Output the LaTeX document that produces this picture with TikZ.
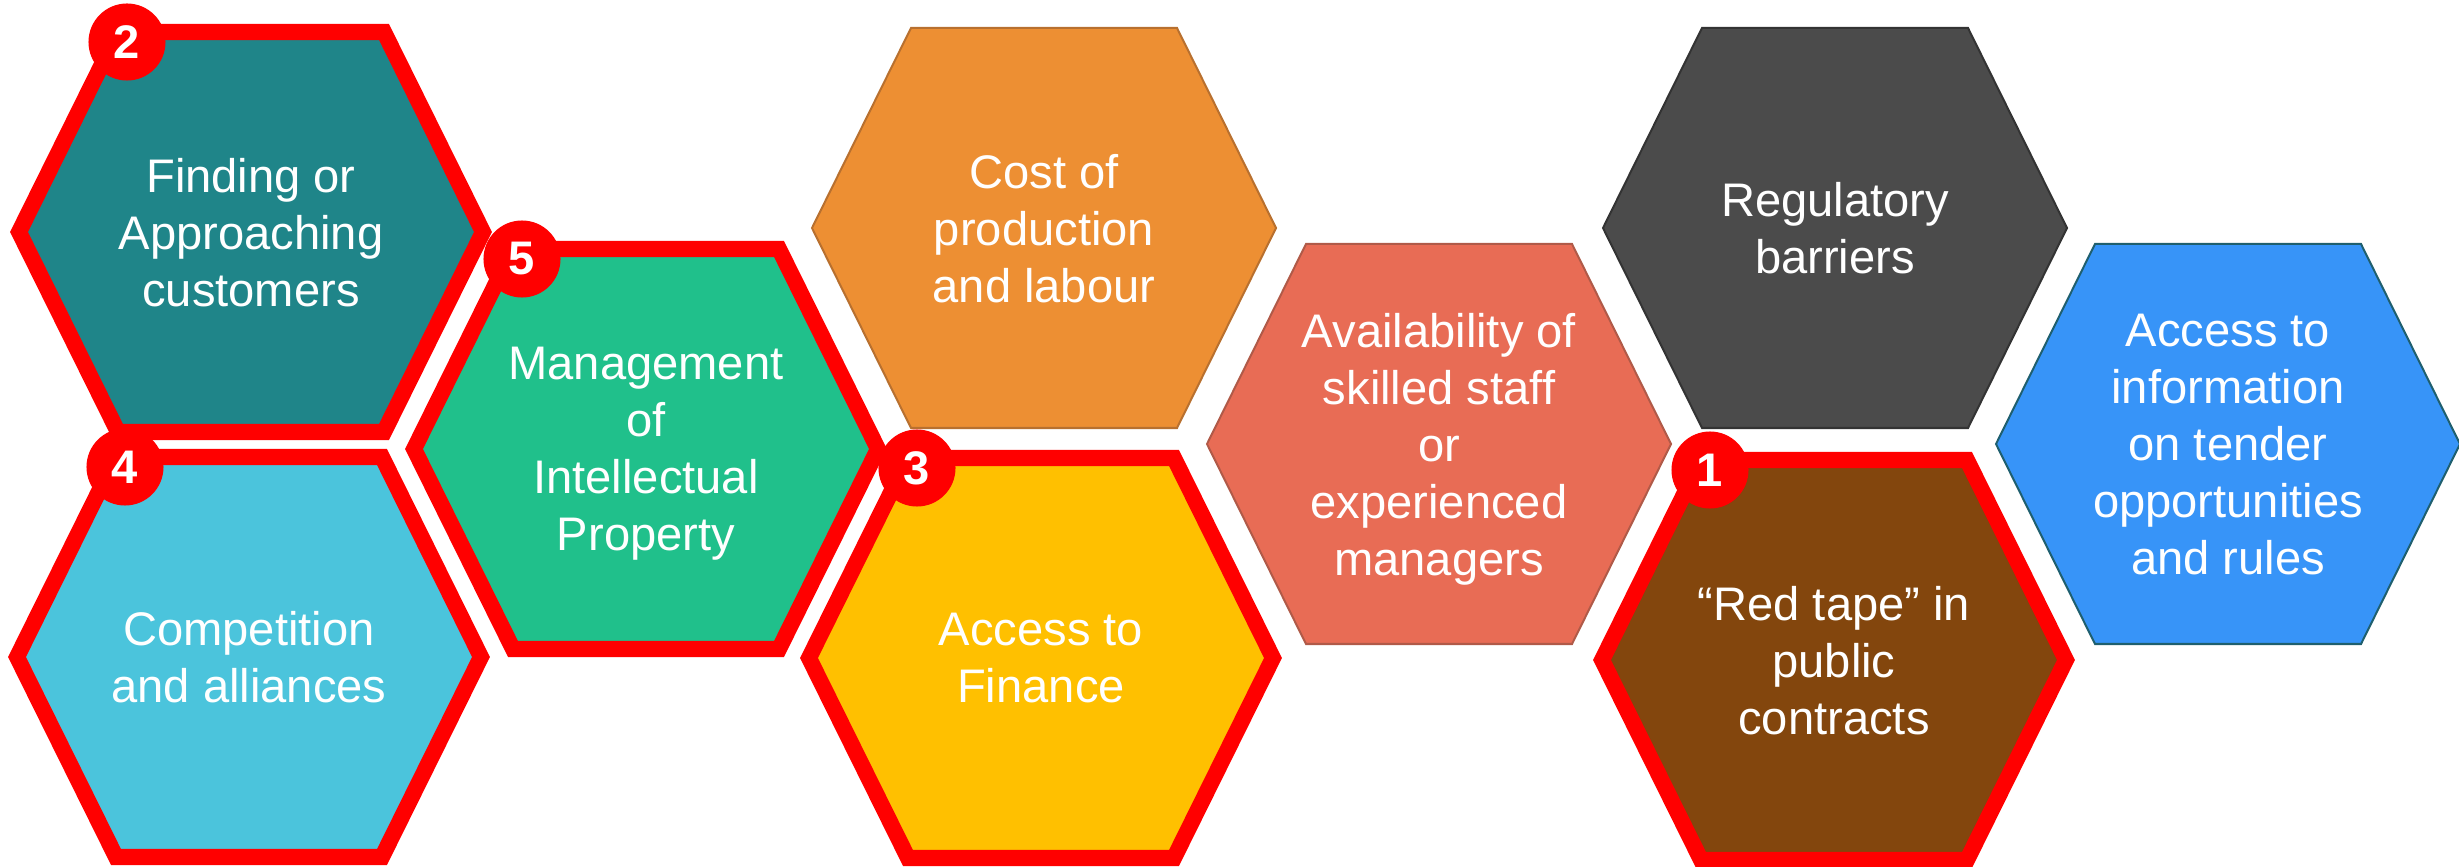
\documentclass[tikz,border=0pt]{standalone}
\usepackage{fontspec}
\setmainfont{Liberation Sans}
\definecolor{cteal}{HTML}{1F8589}
\definecolor{ccyan}{HTML}{4BC4DC}
\definecolor{cgreen}{HTML}{20C08B}
\definecolor{corange}{HTML}{ED8F33}
\definecolor{corangeline}{HTML}{B8702F}
\definecolor{cyellow}{HTML}{FFC000}
\definecolor{csalmon}{HTML}{E86C55}
\definecolor{csalmonline}{HTML}{B05A48}
\definecolor{cgray}{HTML}{4B4B4B}
\definecolor{cgrayline}{HTML}{333333}
\definecolor{cbrown}{HTML}{83460D}
\definecolor{cblue}{HTML}{3794F8}
\definecolor{cblueline}{HTML}{1F5F6E}
\definecolor{cred}{HTML}{FF0000}
\tikzset{
  hexbold/.style={draw=cred, line width=0.16cm, line join=miter},
  hexfine/.style={line width=0.02cm, line join=miter},
  hexlabel/.style={text=white, align=center, inner sep=0pt, text depth=0pt,
    font=\fontsize{13.4}{16.2}\selectfont},
  badge/.style={circle, fill=cred, text=white, inner sep=0pt, minimum size=0.77cm,
    font=\fontsize{13.4}{16}\selectfont\bfseries},
}
\newcommand{\hexcell}[5]{%
  \path[#3] (#1-232,#2) -- (#1-133,#2-200) -- (#1+133,#2-200) -- (#1+232,#2)
    -- (#1+133,#2+200) -- (#1-133,#2+200) -- cycle;
  \node[hexlabel] (#4) at (#1,#2) {#5};
}
\newcommand{\hexbadge}[4]{%
  \node[badge] (#3) at (#1-124,#2-190) {#4};
}
\begin{document}
\begin{tikzpicture}[x=0.01cm,y=-0.01cm]
\useasboundingbox (0,0) rectangle (2459,867);
% top row
\hexcell{251}{232}{hexbold,fill=cteal}{finding}{Finding or\\Approaching\\customers}
\hexcell{1044}{228}{hexfine,draw=corangeline,fill=corange}{cost}{Cost of\\production\\and labour}
\hexcell{1835}{228}{hexfine,draw=cgrayline,fill=cgray}{regulatory}{Regulatory\\barriers}
% middle row
\hexcell{646}{449}{hexbold,fill=cgreen}{management}{Management\\of\\Intellectual\\Property}
\hexcell{1439}{444}{hexfine,draw=csalmonline,fill=csalmon}{availability}{Availability of\\skilled staff\\or\\experienced\\managers}
\hexcell{2228}{444}{hexfine,draw=cblueline,fill=cblue}{tender}{Access to\\information\\on tender\\opportunities\\and rules}
% bottom row
\hexcell{249}{657}{hexbold,fill=ccyan}{competition}{Competition\\and alliances}
\hexcell{1041}{658}{hexbold,fill=cyellow}{finance}{Access to\\Finance}
\hexcell{1834}{660}{hexbold,fill=cbrown}{redtape}{“Red tape” in\\public\\contracts}
% badges
\hexbadge{251}{232}{b2}{2}
\hexbadge{646}{449}{b5}{5}
\hexbadge{249}{657}{b4}{4}
\hexbadge{1041}{658}{b3}{3}
\hexbadge{1834}{660}{b1}{1}
\end{tikzpicture}
\end{document}
